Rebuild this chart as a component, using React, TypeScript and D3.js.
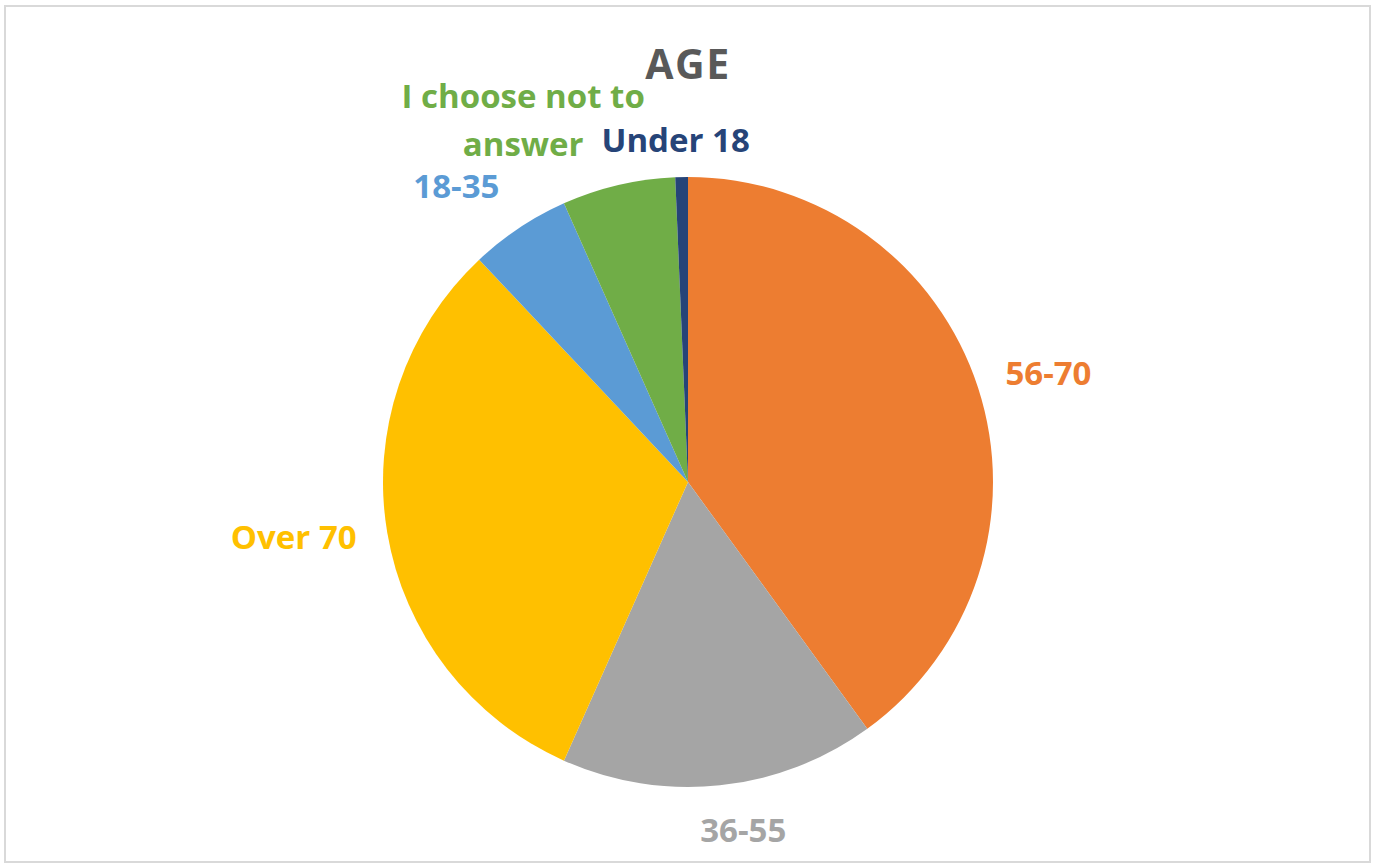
import React, { useEffect, useRef } from "react";
import * as d3 from "d3";

const categories = ["56-70", "36-55", "Over 70", "18-35", "I choose not to answer", "Under 18"];
const values = [60, 25, 47, 8, 9, 1];
const colors = ["#ED7D31", "#A5A5A5", "#FFC000", "#5B9BD5", "#70AD47", "#264478"];
const labelLines = [["56-70"], ["36-55"], ["Over 70"], ["18-35"], ["I choose not to", "answer"], ["Under 18"]];
const title = "AGE";

const W = 1373;
const H = 866;
const CX = 688;
const CY = 482;
const R = 305;
const GAP = 24;
// collision nudges for labels (layout only)
const nudges: [number, number][] = [[2, 7], [18, -6], [-5, -11], [-26, 13], [-73, 29], [-5, 10]];

export default function App() {
  const ref = useRef<SVGSVGElement | null>(null);

  useEffect(() => {
    const svg = d3.select(ref.current);
    svg.selectAll("*").remove();

    svg.append("rect")
      .attr("x", 5).attr("y", 6).attr("width", 1365).attr("height", 856)
      .attr("fill", "#ffffff").attr("stroke", "#d9d9d9").attr("stroke-width", 2);

    svg.append("text")
      .attr("x", CX).attr("y", 79)
      .attr("text-anchor", "middle")
      .attr("font-family", "'Open Sans', sans-serif")
      .attr("font-weight", 700)
      .attr("font-size", 41)
      .attr("letter-spacing", 1.5)
      .attr("fill", "#595959")
      .text(title);

    const data = categories.map((c, i) => ({ c, v: values[i], i }));
    const pie = d3.pie<any>().sort(null).value((d: any) => d.v).startAngle(0).endAngle(2 * Math.PI);
    const arcs = pie(data);
    const arc = d3.arc<any>().innerRadius(0).outerRadius(R);

    const g = svg.append("g").attr("transform", `translate(${CX},${CY})`);
    g.selectAll("path")
      .data(arcs)
      .enter()
      .append("path")
      .attr("d", arc as any)
      .attr("fill", (d: any) => colors[d.data.i]);

    arcs.forEach((a: any) => {
      const i = a.data.i;
      const lines = labelLines[i];
      const lg = svg.append("g");
      const t = lg.append("text")
        .attr("text-anchor", "middle")
        .attr("font-family", "'Open Sans', sans-serif")
        .attr("font-weight", 700)
        .attr("font-size", 33)
        .attr("fill", colors[i]);
      lines.forEach((ln, k) => {
        t.append("tspan").attr("x", 0).attr("y", k * 48).text(ln);
      });
      const bb = (lg.node() as SVGGElement).getBBox();
      const mid = (a.startAngle + a.endAngle) / 2;
      const s = Math.sin(mid);
      const c = Math.cos(mid);
      const dist = R + GAP + Math.abs(s) * bb.width / 2 + Math.abs(c) * bb.height / 2;
      const px = CX + dist * s + nudges[i][0];
      const py = CY - dist * c + nudges[i][1];
      const bcx = bb.x + bb.width / 2;
      const bcy = bb.y + bb.height / 2;
      lg.attr("transform", `translate(${px - bcx},${py - bcy})`);
    });
  }, []);

  return (
    <svg
      ref={ref}
      width={W}
      height={H}
      style={{ position: "absolute", left: 0, top: 0, background: "#ffffff" }}
    />
  );
}
